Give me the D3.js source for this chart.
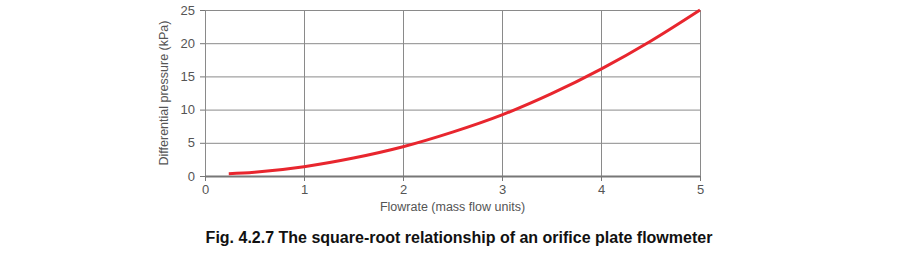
<!DOCTYPE html>
<html>
<head>
<meta charset="utf-8">
<script src="https://cdn.jsdelivr.net/npm/d3@7"></script>
<style>
  body { margin: 0; background: #fff; }
  svg { display: block; font-family: "Liberation Sans", Arial, sans-serif; }
</style>
</head>
<body>
<div id="chart"></div>
<script>
// values
const flowrate = [0.24, 0.5, 1, 1.5, 2, 2.5, 3, 3.5, 4, 4.5, 5];
const pressure = [0.35, 0.55, 1.4, 2.7, 4.4, 6.6, 9.2, 12.4, 16.1, 20.3, 25];
const xTicks = [0, 1, 2, 3, 4, 5];
const yTicks = [0, 5, 10, 15, 20, 25];
const xTitle = "Flowrate (mass flow units)";
const yTitle = "Differential pressure (kPa)";
const caption = "Fig. 4.2.7 The square-root relationship of an orifice plate flowmeter";

const W = 900, H = 256;
const margin = {top: 10, left: 205, right: 200, bottom: 80};
const width = W - margin.left - margin.right,
  height = H - margin.top - margin.bottom;

const svg = d3.select("#chart").append("svg")
  .attr("width", W)
  .attr("height", H);

const g = svg.append("g")
  .attr("transform", "translate(" + margin.left + "," + margin.top + ")");

const x = d3.scaleLinear().domain([0, 5]).range([0, width]);
const y = d3.scaleLinear().domain([0, 25]).range([height, 0]);

// grid
g.append("g").selectAll("line")
  .data(yTicks)
  .join("line")
  .attr("x1", 0).attr("x2", width)
  .attr("y1", d => y(d) + 0.5).attr("y2", d => y(d) + 0.5)
  .attr("stroke", "#8a8a8a").attr("stroke-width", 1);

g.append("g").selectAll("line")
  .data(xTicks)
  .join("line")
  .attr("x1", d => x(d) + 0.5).attr("x2", d => x(d) + 0.5)
  .attr("y1", 0).attr("y2", height)
  .attr("stroke", "#8a8a8a").attr("stroke-width", 1);

// axes
const xAxis = d3.axisBottom(x).tickValues(xTicks).tickFormat(d3.format("d")).tickSize(5).tickPadding(4);
const yAxis = d3.axisLeft(y).tickValues(yTicks).tickFormat(d3.format("d")).tickSize(5).tickPadding(5);

const gx = g.append("g")
  .attr("transform", `translate(0, ${height})`)
  .call(xAxis);
const gy = g.append("g").call(yAxis);

[gx, gy].forEach(a => {
  a.select(".domain").remove();
  a.selectAll(".tick line").attr("stroke", "#777");
  a.selectAll(".tick text")
    .attr("fill", "#555")
    .style("font-size", "13px")
    .style("font-family", "Liberation Sans, Arial, sans-serif");
});

// heavier baseline
g.append("line")
  .attr("x1", 0).attr("x2", width)
  .attr("y1", height + 0.5).attr("y2", height + 0.5)
  .attr("stroke", "#777").attr("stroke-width", 2);

// curve
const pts = flowrate.map((f, i) => [f, pressure[i]]);
const line = d3.line()
  .x(d => x(d[0]))
  .y(d => y(d[1]))
  .curve(d3.curveCatmullRom);

g.append("path")
  .datum(pts)
  .attr("fill", "none")
  .attr("stroke", "#e8262e")
  .attr("stroke-width", 3)
  .attr("d", line);

// titles
g.append("text")
  .attr("x", width / 2)
  .attr("y", height + 35)
  .attr("text-anchor", "middle")
  .attr("fill", "#555")
  .style("font-size", "12.5px")
  .text(xTitle);

g.append("text")
  .attr("transform", `translate(-37, ${height / 2}) rotate(-90)`)
  .attr("text-anchor", "middle")
  .attr("fill", "#555")
  .style("font-size", "12.5px")
  .text(yTitle);

svg.append("text")
  .attr("x", 459)
  .attr("y", 243)
  .attr("text-anchor", "middle")
  .attr("fill", "#111")
  .style("font-size", "16px")
  .style("font-weight", "bold")
  .text(caption);
</script>
</body>
</html>
